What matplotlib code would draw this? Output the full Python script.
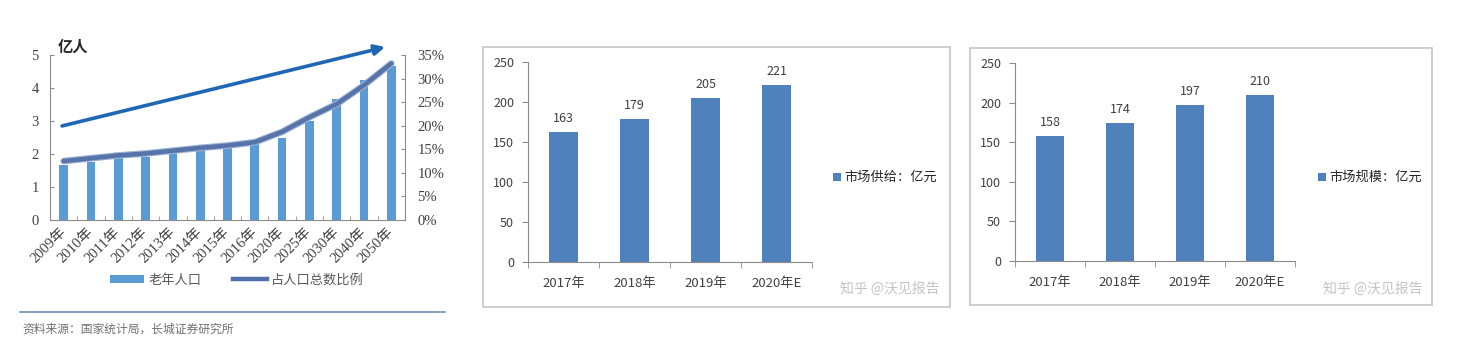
import matplotlib
matplotlib.use("Agg")
import matplotlib.pyplot as plt
import matplotlib.patheffects as pe
from matplotlib.patches import Rectangle, Patch
from matplotlib.lines import Line2D
import numpy as np

plt.rcParams['font.family'] = ['Noto Sans CJK SC', 'DejaVu Sans']

# ---------------- data ----------------
years_left = ['2009年', '2010年', '2011年', '2012年', '2013年', '2014年', '2015年',
              '2016年', '2020年', '2025年', '2030年', '2040年', '2050年']
elderly_pop = [1.67, 1.77, 1.93, 1.92, 2.02, 2.12, 2.22, 2.32, 2.47, 3.00, 3.67, 4.24, 4.68]
elderly_ratio = [12.5, 13.1, 13.7, 14.1, 14.7, 15.3, 15.8, 16.5, 18.7, 21.8, 24.6, 28.6, 33.2]
left_yticks = [0, 1, 2, 3, 4, 5]
right_yticks = [0, 5, 10, 15, 20, 25, 30, 35]

years_mid = ['2017年', '2018年', '2019年', '2020年E']
supply = [163, 179, 205, 221]
scale = [158, 174, 197, 210]
bar_yticks = [0, 50, 100, 150, 200, 250]

W, H = 1467, 354
fig = plt.figure(figsize=(W / 100, H / 100), dpi=100)
fig.patch.set_facecolor('white')


def ax_px(x0, x1, ytop, ybot):
    return fig.add_axes([x0 / W, (H - ybot) / H, (x1 - x0) / W, (ybot - ytop) / H])


axis_grey = '#8c8c8c'
text_grey = '#404040'
serif = ['Liberation Serif', 'Noto Sans CJK SC']

# ---------------- left chart ----------------
ax = ax_px(50, 405, 55, 220)
x = np.arange(len(years_left))
ax.bar(x, elderly_pop, width=0.32, color='#5b9bd5', zorder=2)
ax.set_xlim(-0.5, len(years_left) - 0.5)
ax.set_ylim(0, 5)
ax.set_yticks(left_yticks)
ax.set_yticklabels([str(v) for v in left_yticks], family=serif, fontsize=10.5, color=text_grey)
for s in ['top', 'right']:
    ax.spines[s].set_visible(False)
for s in ['left', 'bottom']:
    ax.spines[s].set_color(axis_grey)
ax.tick_params(axis='y', length=3, color=axis_grey, direction='in', pad=8)
ax.set_xticks(x)
ax.set_xticklabels(years_left, rotation=45, ha='right', va='center', rotation_mode='anchor',
                   family=serif, fontsize=10.5, color=text_grey)
ax.tick_params(axis='x', length=0, pad=7)
ax.set_xticks(np.arange(-0.5, len(years_left), 1), minor=True)
ax.tick_params(axis='x', which='minor', length=3, direction='in', color=axis_grey)

ax2 = ax.twinx()
ax2.set_ylim(0, 35)
ax2.set_yticks(right_yticks)
ax2.set_yticklabels([f'{v}%' for v in right_yticks], family=serif, fontsize=10.5, color=text_grey)
for s in ['top', 'left', 'bottom']:
    ax2.spines[s].set_visible(False)
ax2.spines['right'].set_color(axis_grey)
ax2.tick_params(axis='y', length=3, color=axis_grey, direction='in', pad=9)
line_fx = [pe.Stroke(linewidth=4.8, foreground='#9fb2d4'), pe.Normal()]
ax2.plot(x, elderly_ratio, color='#5673aa', lw=3.2, solid_capstyle='round',
         path_effects=line_fx, zorder=3)

ax.annotate('', xy=(0.944, 1.048), xytext=(0.034, 0.57), xycoords='axes fraction',
            textcoords='axes fraction', annotation_clip=False,
            arrowprops=dict(arrowstyle='-|>,head_length=0.6,head_width=0.3',
                            color='#1f67b4', lw=2.6, shrinkA=0, shrinkB=0))

fig.text(58 / W, 1 - 47 / H, '亿人', fontsize=11, fontweight='bold', color='#262626',
         va='center', ha='left')

handles = [Patch(facecolor='#5b9bd5', edgecolor='none'),
           Line2D([0], [0], color='#4f6fa8', lw=3.2)]
fig.legend(handles, ['老年人口', '占人口总数比例'], loc='center',
           bbox_to_anchor=(237 / W, 1 - 280 / H), ncol=2, frameon=False,
           fontsize=9.5, labelcolor='#595959', handlelength=2.6, handleheight=0.5,
           columnspacing=2.4, handletextpad=0.3)

fig.add_artist(Line2D([20 / W, 445 / W], [1 - 312 / H, 1 - 312 / H],
                      color='#6f8fb8', lw=1.2))
fig.text(22 / W, 1 - 329 / H, '资料来源：国家统计局，长城证券研究所', fontsize=8.5,
         color='#707070', va='center', ha='left', style='italic')


# ---------------- bar panels ----------------
def bar_panel(frame, axbox, values, legend_label, legend_xy, wm_xy):
    fx0, fy0, fx1, fy1 = frame
    fig.add_artist(Rectangle((fx0 / W, 1 - fy1 / H), (fx1 - fx0) / W, (fy1 - fy0) / H,
                             transform=fig.transFigure, facecolor='none',
                             edgecolor='#c6c6c6', lw=1.2))
    a = ax_px(*axbox)
    xs = np.arange(len(years_mid))
    bars = a.bar(xs, values, width=0.4, color='#4f81bd', zorder=2)
    a.set_xlim(-0.5, len(years_mid) - 0.5)
    a.set_ylim(0, 250)
    a.set_yticks(bar_yticks)
    a.set_yticklabels([str(v) for v in bar_yticks], fontsize=9, color=text_grey)
    a.set_xticks(xs)
    a.set_xticklabels(years_mid, fontsize=9.5, color=text_grey)
    a.tick_params(axis='x', length=0, pad=11)
    a.set_xticks(np.arange(-0.5, len(years_mid), 1), minor=True)
    a.tick_params(axis='x', which='minor', length=4, color=axis_grey)
    a.tick_params(axis='y', length=4, color=axis_grey, pad=6)
    for s in ['top', 'right']:
        a.spines[s].set_visible(False)
    for s in ['left', 'bottom']:
        a.spines[s].set_color(axis_grey)
    a.bar_label(bars, labels=[str(v) for v in values], padding=5, fontsize=9,
                color=text_grey)
    lx, ly = legend_xy
    fig.add_artist(Rectangle(((lx - 4) / W, 1 - (ly + 4) / H), 8 / W, 8 / H,
                             transform=fig.transFigure, facecolor='#4f81bd',
                             edgecolor='none'))
    fig.text((lx + 7) / W, 1 - ly / H, legend_label, fontsize=9.5, color='#262626',
             va='center', ha='left')
    fig.text(wm_xy[0] / W, 1 - wm_xy[1] / H, '知乎 @沃见报告', fontsize=10,
             color='#c4c4c4', va='center', ha='left')


bar_panel((483, 47, 950, 307), (528, 812, 62, 262), supply, '市场供给：亿元',
          (837, 177), (840, 289))
bar_panel((970, 48, 1432, 305), (1015, 1295, 63, 261), scale, '市场规模：亿元',
          (1322, 177), (1323, 289))

fig.savefig('out.png', dpi=100, facecolor='white')
